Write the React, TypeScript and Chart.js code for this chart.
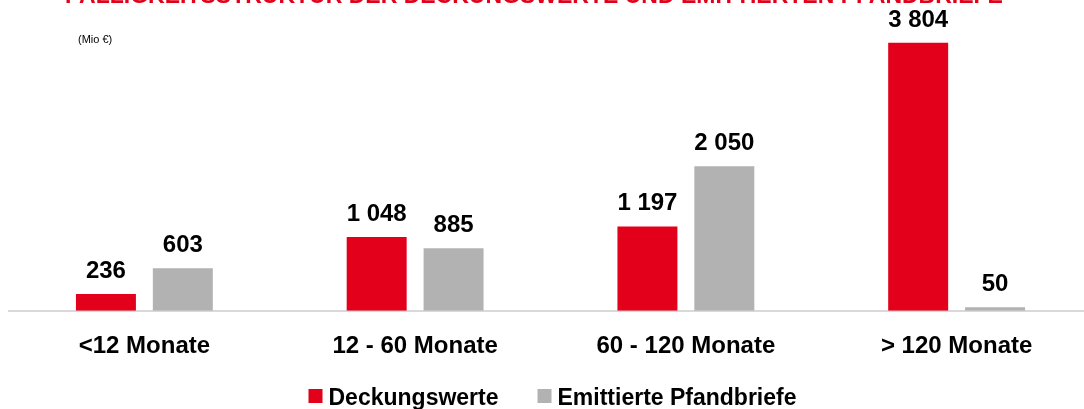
import React, { useEffect, useRef } from "react";
import { Chart, registerables } from "chart.js";

Chart.register(...registerables);

const categories = ["<12 Monate", "12 - 60 Monate", "60 - 120 Monate", "> 120 Monate"];
const deckungswerte = [236, 1048, 1197, 3804];
const pfandbriefe = [603, 885, 2050, 50];
const seriesNames = ["Deckungswerte", "Emittierte Pfandbriefe"];
const titleText = "FÄLLIGKEITSSTRUKTUR DER DECKUNGSWERTE UND EMITTIERTEN PFANDBRIEFE";
const unitText = "(Mio €)";

const RED = "#e2001a";
const GRAY = "#b2b2b2";
const FONT = "'Liberation Sans', Arial, sans-serif";

const fmt = (v: number) => String(v).replace(/\B(?=(\d{3})+(?!\d))/g, " ");

const labelsPlugin = {
  id: "valueLabels",
  afterDatasetsDraw(chart: any) {
    const ctx = chart.ctx;
    ctx.save();
    ctx.font = `bold 24px ${FONT}`;
    ctx.fillStyle = "#000";
    ctx.textAlign = "center";
    ctx.textBaseline = "alphabetic";
    chart.data.datasets.forEach((ds: any, i: number) => {
      const meta = chart.getDatasetMeta(i);
      meta.data.forEach((bar: any, j: number) => {
        ctx.fillText(fmt(ds.data[j]), bar.x, bar.y - 16);
      });
    });
    ctx.restore();
  },
};

const textPlugin = {
  id: "extraText",
  afterDraw(chart: any) {
    const ctx = chart.ctx;
    const area = chart.chartArea;
    ctx.save();
    // title (cut off at the top edge)
    ctx.fillStyle = RED;
    ctx.font = `bold 23px ${FONT}`;
    ctx.textAlign = "center";
    ctx.textBaseline = "alphabetic";
    ctx.fillText(titleText, 534, 3);
    // unit
    ctx.fillStyle = "#000";
    ctx.font = `11px ${FONT}`;
    ctx.textAlign = "left";
    ctx.textBaseline = "middle";
    ctx.fillText(unitText, 78, 40);
    // legend
    const colors = [RED, GRAY];
    ctx.font = `bold 23px ${FONT}`;
    ctx.textBaseline = "alphabetic";
    const box = 14;
    const gapText = 6;
    const gapItem = 39;
    const widths = seriesNames.map((n) => ctx.measureText(n).width);
    const total = widths.reduce((a, w) => a + box + gapText + w, 0) + gapItem * (seriesNames.length - 1);
    let x = (area.left + area.right) / 2 + 2 - total / 2;
    seriesNames.forEach((n, i) => {
      ctx.fillStyle = colors[i];
      ctx.fillRect(x, 389, box, box);
      ctx.fillStyle = "#000";
      ctx.fillText(n, x + box + gapText, 405);
      x += box + gapText + widths[i] + gapItem;
    });
    ctx.restore();
  },
};

export default function App() {
  const ref = useRef<HTMLCanvasElement>(null);
  useEffect(() => {
    if (!ref.current) return;
    const chart = new Chart(ref.current, {
      type: "bar",
      data: {
        labels: categories,
        datasets: [
          { label: seriesNames[0], data: deckungswerte, backgroundColor: RED },
          { label: seriesNames[1], data: pfandbriefe, backgroundColor: GRAY },
        ],
      },
      options: {
        responsive: false,
        animation: false,
        layout: { padding: { left: 9, right: 8, top: 29, bottom: 27.5 } },
        datasets: {
          bar: { categoryPercentage: 0.568, barPercentage: 0.78 },
        },
        scales: {
          x: {
            grid: { display: false, drawTicks: false },
            border: { display: true, color: "#d9d9d9", width: 2 },
            ticks: {
              color: "#000",
              font: { family: FONT, size: 24, weight: "bold" },
              padding: 21,
            },
          },
          y: { display: false, min: 0, max: 4000 },
        },
        plugins: {
          legend: { display: false },
          tooltip: { enabled: false },
        },
      },
      plugins: [labelsPlugin, textPlugin],
    });
    return () => chart.destroy();
  }, []);
  return (
    <div style={{ position: "absolute", left: 0, top: 0, width: 1084, height: 409, overflow: "hidden", background: "#fff" }}>
      <canvas ref={ref} width={1100} height={409} style={{ display: "block" }} />
    </div>
  );
}
